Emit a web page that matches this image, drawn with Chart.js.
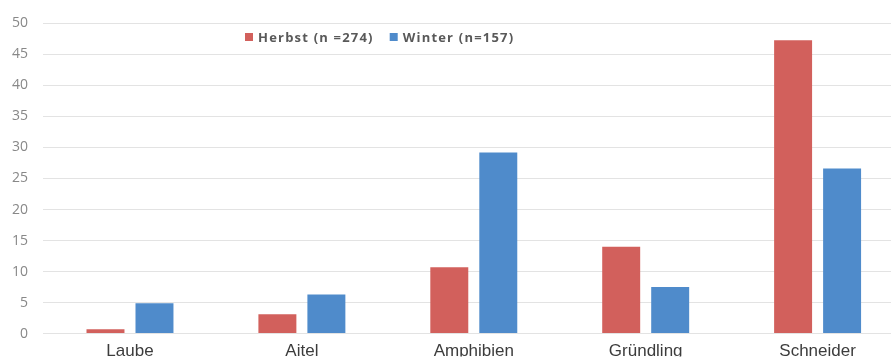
<!DOCTYPE html>
<html lang="de">
<head>
    <meta charset="UTF-8">
    <title>Herbst / Winter</title>
    <script src="https://cdn.jsdelivr.net/npm/chart.js"></script>
    <style>
        html, body {
            margin: 0;
            padding: 0;
            background: #fff;
        }
        .chart-box {
            width: 891px;
            height: 357px;
        }
    </style>
</head>
<body>
    <div class="chart-box">
        <canvas id="fishChart"></canvas>
    </div>

    <script>
        // Daten
        const categories = ['Laube', 'Aitel', 'Amphibien', 'Gründling', 'Schneider'];
        const herbst = [0.7, 3.1, 10.7, 14.0, 47.3];
        const winter = [4.9, 6.3, 29.2, 7.5, 26.6];
        const seriesNames = ['Herbst (n =274)', 'Winter (n=157)'];
        const yTicks = [0, 5, 10, 15, 20, 25, 30, 35, 40, 45, 50];

        const colors = ['#d2605c', '#4f8bcb'];

        // Legende innerhalb der Zeichenfläche
        const innerLegend = {
            id: 'innerLegend',
            afterDraw(chart) {
                const c = chart.ctx;
                const area = chart.chartArea;
                let x = area.left + 202;
                const y = 38;
                c.save();
                c.font = 'bold 13px "Open Sans", sans-serif';
                c.letterSpacing = '1.2px';
                c.textBaseline = 'middle';
                chart.data.datasets.forEach((ds) => {
                    c.fillStyle = ds.backgroundColor;
                    c.fillRect(x, y - 5, 8, 8);
                    x += 13;
                    c.fillStyle = '#595959';
                    c.fillText(ds.label, x, y);
                    x += c.measureText(ds.label).width + 16;
                });
                c.restore();
            }
        };

        const ctx = document.getElementById('fishChart').getContext('2d');
        new Chart(ctx, {
            type: 'bar',
            data: {
                datasets: [
                    {
                        label: seriesNames[0],
                        data: herbst.map((v, i) => ({ x: i, y: v })),
                        backgroundColor: colors[0]
                    },
                    {
                        label: seriesNames[1],
                        data: winter.map((v, i) => ({ x: i, y: v })),
                        backgroundColor: colors[1]
                    }
                ]
            },
            options: {
                responsive: true,
                maintainAspectRatio: false,
                animation: false,
                layout: { padding: { top: 19, right: 0, left: 0, bottom: 0 } },
                categoryPercentage: 0.57,
                barPercentage: 0.775,
                plugins: {
                    legend: { display: false },
                    tooltip: { enabled: false }
                },
                scales: {
                    x: {
                        type: 'linear',
                        offset: false,
                        min: -0.506,
                        max: 4.427,
                        grid: { display: false },
                        border: { display: false },
                        afterBuildTicks(scale) {
                            scale.ticks = categories.map((_, i) => ({ value: i }));
                        },
                        afterFit(scale) { scale.height = 23; },
                        ticks: {
                            autoSkip: false,
                            maxRotation: 0,
                            padding: 0,
                            color: '#3c3c3c',
                            font: { family: '"Liberation Sans", Arial, sans-serif', size: 17 },
                            callback: (value) => categories[value]
                        }
                    },
                    y: {
                        min: 0,
                        max: 50,
                        afterBuildTicks(scale) {
                            scale.ticks = yTicks.map((v) => ({ value: v }));
                        },
                        afterFit(scale) { scale.width = 43; },
                        grid: {
                            color: '#e3e3e3',
                            lineWidth: 1,
                            drawTicks: false
                        },
                        border: { display: false },
                        ticks: {
                            padding: 15,
                            color: '#888888',
                            font: { family: '"Open Sans", sans-serif', size: 14 }
                        }
                    }
                }
            },
            plugins: [innerLegend]
        });
    </script>
</body>
</html>
